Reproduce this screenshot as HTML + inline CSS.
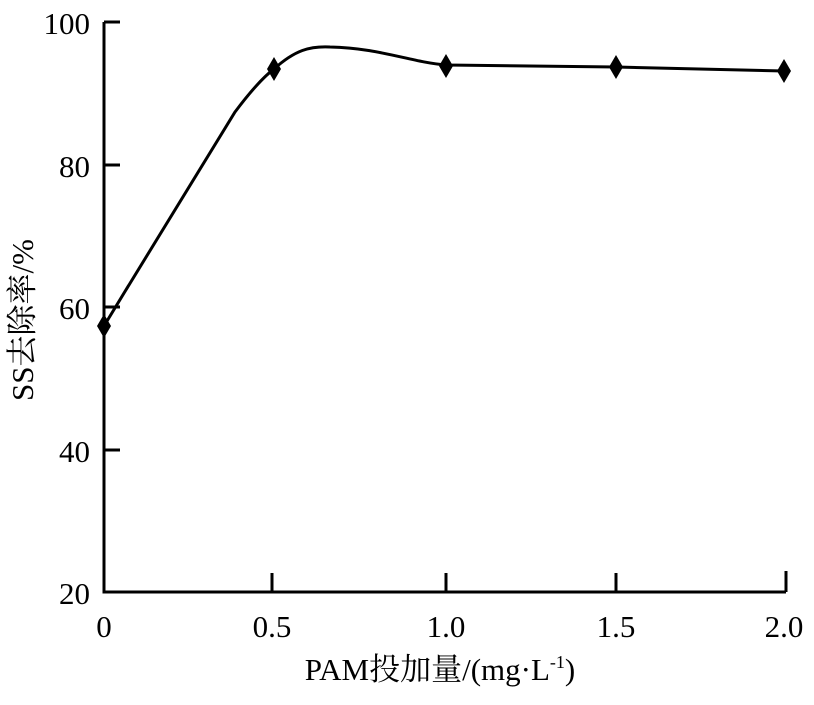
<!DOCTYPE html>
<html><head><meta charset="utf-8"><style>body{margin:0;background:#fff}</style></head><body>
<svg width="814" height="700" xmlns="http://www.w3.org/2000/svg" font-family="Liberation Serif, Noto Serif CJK SC, serif" font-size="31">
<g stroke="#000" stroke-width="3" fill="none">
<path d="M104 22 V592 H786"/>
<path d="M104 22 h16 M104 165 h16 M104 307 h16 M104 450 h16"/>
<path d="M272 592 v-19 M446 592 v-19 M616 592 v-19 M786 592 v-21"/>
<path d="M104 326 C150 250 200 170 235 112 C250 92 262 78 274 69 C295 50 310 46 330 47 C380 48 410 62 446 65 L616 67 L784 71"/>
</g>
<g fill="#000">
<path d="M104 314 l7 12 -7 12 -7 -12z"/>
<path d="M274 57 l7 12 -7 12 -7 -12z"/>
<path d="M446 54 l7 12 -7 12 -7 -12z"/>
<path d="M616 55 l7 12 -7 12 -7 -12z"/>
<path d="M784 59 l7 12 -7 12 -7 -12z"/>
</g>
<g text-anchor="end">
<text x="90" y="34">100</text><text x="90" y="177">80</text><text x="90" y="319">60</text><text x="90" y="462">40</text><text x="90" y="604">20</text>
</g>
<g text-anchor="middle">
<text x="104" y="637">0</text><text x="272" y="637">0.5</text><text x="446" y="637">1.0</text><text x="616" y="637">1.5</text><text x="784" y="637">2.0</text>
<text x="440" y="680">PAM投加量/(mg·L<tspan font-size="18" dy="-12">-1</tspan><tspan dy="12">)</tspan></text>
<text transform="translate(33 320) rotate(-90)">SS去除率/%</text>
</g>
</svg>
</body></html>
